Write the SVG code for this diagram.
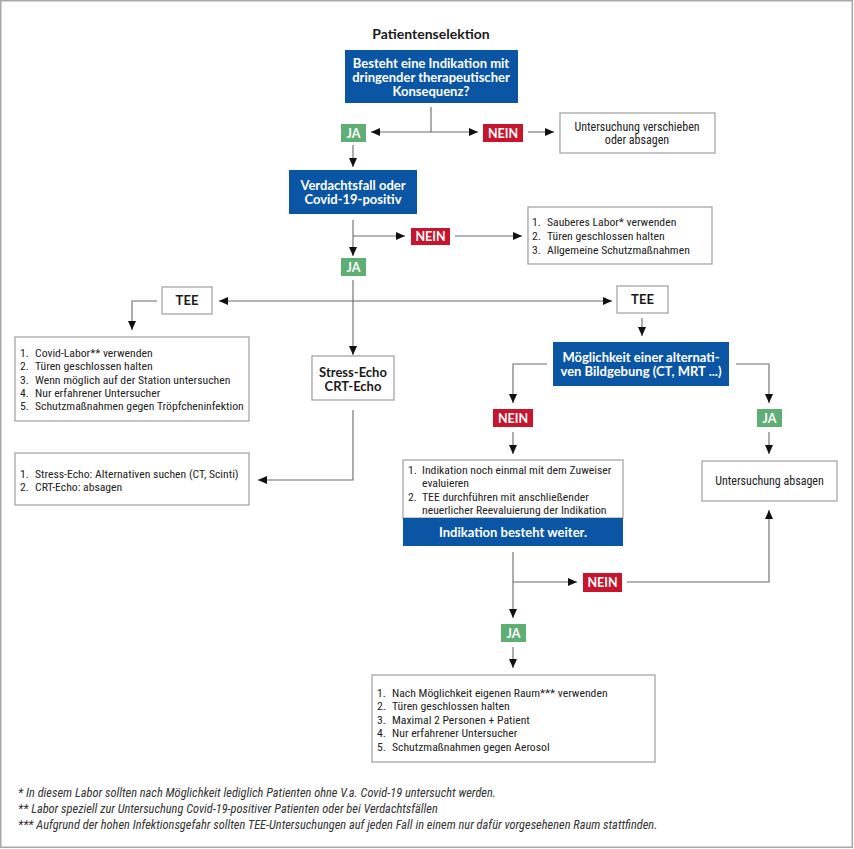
<svg xmlns="http://www.w3.org/2000/svg" width="854" height="849" viewBox="0 0 854 849">
<defs>
<marker id="ah" markerUnits="userSpaceOnUse" markerWidth="10" markerHeight="10" refX="9" refY="4" orient="auto">
<path d="M0,0 L9,4 L0,8 z" fill="#111"/>
</marker>
<style>
.frame{fill:#fff;stroke:#a8a8a8;stroke-width:1.5}
.blue{fill:#0b56a4}
.box{fill:#fff;stroke:#a6a6a6;stroke-width:1.3}
.ja{fill:#5fae74}
.nein{fill:#c8142c}
.lbl{font-family:"Lato","Open Sans",sans-serif;font-weight:700;font-size:12.5px;fill:#fff;text-anchor:middle}
.bt{font-family:"Lato","Open Sans",sans-serif;font-weight:700;font-size:13px;fill:#fff;text-anchor:middle}
.bk{font-family:"Lato","Open Sans",sans-serif;font-weight:700;font-size:13px;fill:#1a1a1a;text-anchor:middle}
.title{font-family:"Lato","Open Sans",sans-serif;font-weight:700;font-size:14px;fill:#1a1a1a;text-anchor:middle}
.t{font-family:"Liberation Sans Narrow","Roboto Condensed","Roboto",sans-serif;font-stretch:condensed;font-size:11.7px;fill:#222}
.tc{text-anchor:middle;font-size:12px}
.fn{font-family:"Liberation Sans Narrow","Roboto Condensed","Roboto",sans-serif;font-stretch:condensed;font-style:italic;font-size:12.4px;fill:#333}
.c{fill:none;stroke:#6a6a6a;stroke-width:1.1}
.ca{fill:none;stroke:#6a6a6a;stroke-width:1.1;marker-end:url(#ah)}
</style>
</defs>
<rect class="frame" x="0.75" y="0.75" width="851.5" height="846.5"/>
<text class="title" x="431" y="39">Patientenselektion</text>

<g id="connectors">
<path class="c" d="M431,107 V132"/>
<path class="ca" d="M431,132 H371"/>
<path class="ca" d="M431,132 H478"/>
<path class="ca" d="M528,132 H554"/>
<path class="ca" d="M353,145 V167"/>
<path class="ca" d="M353,220 V256"/>
<path class="ca" d="M353,236 H405"/>
<path class="ca" d="M455,236 H522"/>
<path class="ca" d="M353,280 V355"/>
<path class="ca" d="M353,301 H219"/>
<path class="ca" d="M353,301 H612"/>
<path class="ca" d="M157,301 H132 V330"/>
<path class="ca" d="M353,410 V480 H258"/>
<path class="ca" d="M642,318 V336"/>
<path class="ca" d="M547,364 H513 V403"/>
<path class="ca" d="M736,364 H769 V403"/>
<path class="ca" d="M513,432 V454"/>
<path class="ca" d="M769,432 V454"/>
<path class="ca" d="M513,552 V618"/>
<path class="ca" d="M513,582 H577"/>
<path class="ca" d="M627,582 H769 V510"/>
<path class="ca" d="M513,647 V668"/>
</g>

<g id="q1">
<rect class="blue" x="345" y="50" width="173" height="53"/>
<text class="bt" x="431" y="68">Besteht eine Indikation mit</text>
<text class="bt" x="431" y="82">dringender therapeutischer</text>
<text class="bt" x="431" y="96">Konsequenz?</text>
</g>
<g id="ja1"><rect class="ja" x="341" y="124" width="25" height="18"/><text class="lbl" x="353.5" y="137.5">JA</text></g>
<g id="nein1"><rect class="nein" x="483" y="124" width="40" height="18"/><text class="lbl" x="503" y="137.5">NEIN</text></g>
<g id="verschieben">
<rect class="box" x="560" y="113" width="155" height="40"/>
<text class="t tc" x="637" y="131">Untersuchung verschieben</text>
<text class="t tc" x="637" y="144">oder absagen</text>
</g>

<g id="q2">
<rect class="blue" x="289" y="170" width="128" height="44"/>
<text class="bt" x="353" y="190">Verdachtsfall oder</text>
<text class="bt" x="353" y="204">Covid-19-positiv</text>
</g>
<g id="nein2"><rect class="nein" x="411" y="228" width="39" height="17"/><text class="lbl" x="430.5" y="241">NEIN</text></g>
<g id="sauber">
<rect class="box" x="528" y="207" width="184" height="57"/>
<text class="t" x="532" y="226">1.</text><text class="t" x="547" y="226">Sauberes Labor* verwenden</text>
<text class="t" x="532" y="240">2.</text><text class="t" x="547" y="240">Türen geschlossen halten</text>
<text class="t" x="532" y="254">3.</text><text class="t" x="547" y="254">Allgemeine Schutzmaßnahmen</text>
</g>
<g id="ja2"><rect class="ja" x="341" y="258" width="25" height="18"/><text class="lbl" x="353.5" y="271.5">JA</text></g>

<g id="tee-left">
<rect class="box" x="162" y="287" width="50" height="27"/>
<text class="bk" x="187" y="305">TEE</text>
</g>
<g id="tee-right">
<rect class="box" x="617" y="286" width="51" height="27"/>
<text class="bk" x="642.5" y="304">TEE</text>
</g>

<g id="covidlabor">
<rect class="box" x="15" y="337" width="234" height="84"/>
<text class="t" x="20" y="357">1.</text><text class="t" x="35" y="357">Covid-Labor** verwenden</text>
<text class="t" x="20" y="370">2.</text><text class="t" x="35" y="370">Türen geschlossen halten</text>
<text class="t" x="20" y="384">3.</text><text class="t" x="35" y="384">Wenn möglich auf der Station untersuchen</text>
<text class="t" x="20" y="397">4.</text><text class="t" x="35" y="397">Nur erfahrener Untersucher</text>
<text class="t" x="20" y="410">5.</text><text class="t" x="35" y="410">Schutzmaßnahmen gegen Tröpfcheninfektion</text>
</g>

<g id="stress">
<rect class="box" x="312" y="356" width="82" height="44"/>
<text class="bk" x="353" y="377">Stress-Echo</text>
<text class="bk" x="353" y="391">CRT-Echo</text>
</g>

<g id="alternativen">
<rect class="box" x="15" y="453" width="234" height="52"/>
<text class="t" x="20" y="478">1.</text><text class="t" x="35" y="478">Stress-Echo: Alternativen suchen (CT, Scinti)</text>
<text class="t" x="20" y="491">2.</text><text class="t" x="35" y="491">CRT-Echo: absagen</text>
</g>

<g id="q3">
<rect class="blue" x="553" y="342" width="176" height="44"/>
<text class="bt" x="641" y="362">Möglichkeit einer alternati-</text>
<text class="bt" x="641" y="376">ven Bildgebung (CT, MRT ...)</text>
</g>
<g id="nein3"><rect class="nein" x="493" y="409" width="40" height="18"/><text class="lbl" x="513" y="422.5">NEIN</text></g>
<g id="ja3"><rect class="ja" x="757" y="409" width="25" height="18"/><text class="lbl" x="769.5" y="422.5">JA</text></g>

<g id="reeval">
<rect class="box" x="403" y="460" width="220" height="58"/>
<rect class="blue" x="403" y="518" width="220" height="28"/>
<text class="t" x="408" y="474">1.</text><text class="t" x="422" y="474">Indikation noch einmal mit dem Zuweiser</text>
<text class="t" x="422" y="486.5">evaluieren</text>
<text class="t" x="408" y="501">2.</text><text class="t" x="422" y="501">TEE durchführen mit anschließender</text>
<text class="t" x="422" y="513.5">neuerlicher Reevaluierung der Indikation</text>
<text class="bt" x="513" y="537">Indikation besteht weiter.</text>
</g>

<g id="absagen">
<rect class="box" x="702" y="461" width="135" height="40"/>
<text class="t tc" x="769.5" y="485">Untersuchung absagen</text>
</g>

<g id="nein4"><rect class="nein" x="583" y="573" width="39" height="19"/><text class="lbl" x="602.5" y="587">NEIN</text></g>
<g id="ja4"><rect class="ja" x="501" y="624" width="25" height="18"/><text class="lbl" x="513.5" y="637.5">JA</text></g>

<g id="raum">
<rect class="box" x="372" y="675" width="283" height="87"/>
<text class="t" x="377" y="697">1.</text><text class="t" x="392" y="697">Nach Möglichkeit eigenen Raum*** verwenden</text>
<text class="t" x="377" y="710">2.</text><text class="t" x="392" y="710">Türen geschlossen halten</text>
<text class="t" x="377" y="724">3.</text><text class="t" x="392" y="724">Maximal 2 Personen + Patient</text>
<text class="t" x="377" y="737">4.</text><text class="t" x="392" y="737">Nur erfahrener Untersucher</text>
<text class="t" x="377" y="751">5.</text><text class="t" x="392" y="751">Schutzmaßnahmen gegen Aerosol</text>
</g>

<g id="footnotes">
<text class="fn" x="18" y="797">* In diesem Labor sollten nach Möglichkeit lediglich Patienten ohne V.a. Covid-19 untersucht werden.</text>
<text class="fn" x="18" y="813">** Labor speziell zur Untersuchung Covid-19-positiver Patienten oder bei Verdachtsfällen</text>
<text class="fn" x="18" y="829">*** Aufgrund der hohen Infektionsgefahr sollten TEE-Untersuchungen auf jeden Fall in einem nur dafür vorgesehenen Raum stattfinden.</text>
</g>
</svg>
